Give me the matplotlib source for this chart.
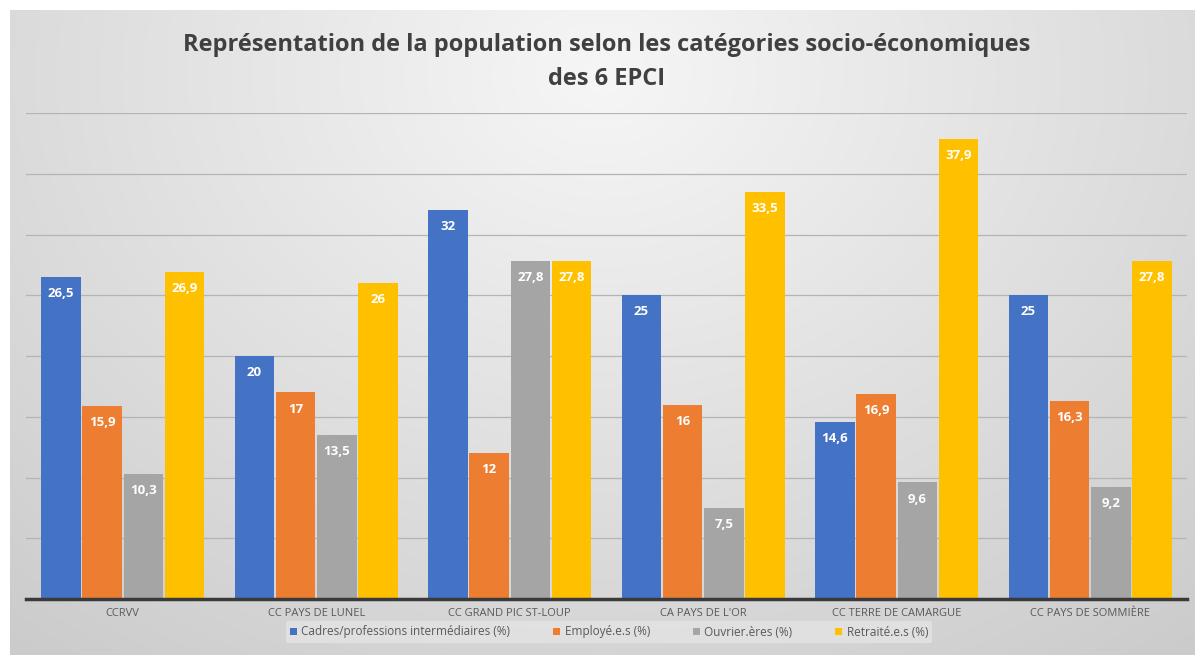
import numpy as np
import matplotlib
matplotlib.use('Agg')
import matplotlib.pyplot as plt

plt.rcParams['font.family'] = ['Open Sans', 'DejaVu Sans']

# Data
categories = ["CCRVV", "CC PAYS DE LUNEL", "CC GRAND PIC ST-LOUP",
              "CA PAYS DE L'OR", "CC TERRE DE CAMARGUE", "CC PAYS DE SOMMIÈRE"]
series_names = ["Cadres/professions intermédiaires (%)", "Employé.e.s (%)",
                "Ouvrier.ères (%)", "Retraité.e.s (%)"]
cadres = [26.5, 20, 32, 25, 14.6, 25]
employes = [15.9, 17, 12, 16, 16.9, 16.3]
ouvriers = [10.3, 13.5, 27.8, 7.5, 9.6, 9.2]
retraites = [26.9, 26, 27.8, 33.5, 37.9, 27.8]
series = [cadres, employes, ouvriers, retraites]
colors = ['#4472C4', '#ED7D31', '#A5A5A5', '#FFC000']

W, H = 1201, 665
fig = plt.figure(figsize=(W / 100, H / 100), dpi=100)
fig.patch.set_facecolor('white')

# Gradient background of the chart area
bg = fig.add_axes([10 / W, 10 / H, 1185 / W, 645 / H])
yy, xx = np.mgrid[0:1:300j, 0:1:600j]
r = np.sqrt(((xx - 0.5) / 0.75) ** 2 + ((yy - 0.1) / 1.1) ** 2)
shade = 0.965 - 0.16 * np.clip(r, 0, 1.2)
bg.imshow(np.dstack([shade] * 3), aspect='auto', extent=[0, 1, 0, 1], origin='upper')
bg.axis('off')

ax = fig.add_axes([26 / W, (H - 599) / H, 1161 / W, 486 / H])
ax.patch.set_alpha(0)
x = np.arange(len(categories))
slot = 0.2132
bw = 0.203
for i, (vals, col, name) in enumerate(zip(series, colors, series_names)):
    pos = x + (i - 1.5) * slot
    ax.bar(pos, vals, width=bw, color=col, label=name, zorder=3)
    for p, v in zip(pos, vals):
        txt = f"{v:g}".replace('.', ',')
        ax.annotate(txt, (p, v), xytext=(0, -12), textcoords='offset points',
                    ha='center', va='center', color='white', fontsize=9.5,
                    fontweight='bold', zorder=4)

ax.set_xlim(-0.5, len(categories) - 0.5)
ax.set_ylim(0, 40)
ax.set_yticks(np.arange(5, 45, 5))
ax.yaxis.grid(True, color='#b4b4b4', linewidth=0.9, zorder=0)
ax.tick_params(axis='y', left=False, labelleft=False)
ax.tick_params(axis='x', bottom=False, labelsize=8, labelcolor='#595959', pad=3)
ax.set_xticks(x)
ax.set_xticklabels(categories)
for s in ['top', 'right', 'left']:
    ax.spines[s].set_visible(False)
ax.spines['bottom'].set_color('#3a3a3a')
ax.spines['bottom'].set_linewidth(2.5)
ax.spines['bottom'].set_zorder(5)

fig.text(607 / W, 1 - 45 / H, "Représentation de la population selon les catégories socio-économiques",
         ha='center', va='center', fontsize=17, fontweight='bold', color='#404040')
fig.text(607 / W, 1 - 79 / H, "des 6 EPCI",
         ha='center', va='center', fontsize=17, fontweight='bold', color='#404040')

leg = fig.legend(loc='center', bbox_to_anchor=(609 / W, 1 - 632 / H), ncol=4,
                 fontsize=8.5, frameon=True, handlelength=0.6, handleheight=0.6,
                 columnspacing=3.6, handletextpad=0.4, borderpad=0.35)
leg.get_frame().set_facecolor('#e4e4e4')
leg.get_frame().set_edgecolor('none')
leg.get_frame().set_alpha(0.8)
for t in leg.get_texts():
    t.set_color('#595959')

fig.savefig('out.png', dpi=100)
